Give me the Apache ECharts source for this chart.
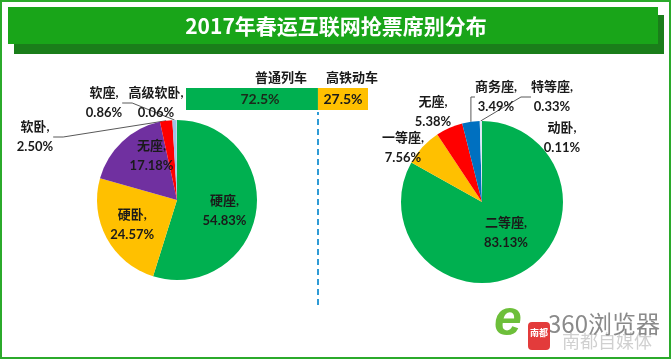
<!DOCTYPE html>
<html><head><meta charset="utf-8">
<script src="https://cdn.jsdelivr.net/npm/echarts@6/dist/echarts.min.js"></script>
<style>html,body{margin:0;padding:0;background:#fff}#c{width:672px;height:360px}</style>
</head><body><div id="c"></div>
<script>
// ---- data ----
const titleText = '2017年春运互联网抢票席别分布';
const leftNames = ['硬座', '硬卧', '无座', '软卧', '软座', '高级软卧'];
const leftValues = [54.83, 24.57, 17.18, 2.50, 0.86, 0.06];
const rightNames = ['二等座', '一等座', '无座', '商务座', '特等座', '动卧'];
const rightValues = [83.13, 7.56, 5.38, 3.49, 0.33, 0.11];
const trainTypes = ['普通列车', '高铁动车'];
const trainShares = [72.5, 27.5];

// ---- styles ----
const FONT = 'Lato, "Noto Sans CJK SC", sans-serif';
const leftColors = ['#00B050', '#FFC000', '#7030A0', '#FF0000', '#9DC3E6', '#DDEBF7'];
const rightColors = ['#00B050', '#FFC000', '#FF0000', '#0070C0', '#DEEBF7', '#C9D9EC'];
const leftInside = [true, true, true, false, false, false];
const leftLine = [false, false, false, true, true, false];
const rightInside = [true, false, false, false, false, false];
const rightLine = [false, false, false, true, true, false];
// label placement (layout, not data)
const leftLabelLayout = {
  0: {dx: 5, dy: 4}, 1: {dx: -7, dy: 4}, 2: {dx: 4, dy: -13},
  3: {x: 35, y: 137}, 4: {x: 104, y: 103}, 5: {x: 156, y: 103}
};
const rightLabelLayout = {
  0: {dx: 2, dy: -7},
  1: {x: 403, y: 148}, 2: {x: 433, y: 112}, 3: {x: 496, y: 97},
  4: {x: 552, y: 97}, 5: {x: 562, y: 138}
};

function pieData(names, values, colors, inside, line) {
  return values.map((v, i) => ({
    name: names[i], value: v,
    itemStyle: {color: colors[i]},
    label: {position: inside[i] ? 'inside' : 'outside'},
    labelLine: {show: line[i]}
  }));
}
function makeLayout(cfg) {
  return function (p) {
    const c = cfg[p.dataIndex] || {};
    if (c.x != null) return {x: c.x, y: c.y, align: 'center', verticalAlign: 'middle'};
    return {dx: c.dx || 0, dy: c.dy || 0};
  };
}
const labelStyle = {
  show: true, fontFamily: FONT, fontWeight: 'bold', fontSize: 13, color: '#1a1a1a',
  lineHeight: 20, align: 'center',
  formatter: p => p.name + ',\n' + p.value.toFixed(2) + '%'
};
const lineStyle = {color: '#595959', width: 1};

const chart = echarts.init(document.getElementById('c'), null, {renderer: 'canvas'});
chart.setOption({
  backgroundColor: '#fff',
  animation: false,
  graphic: [
    {type: 'rect', shape: {x: 1, y: 1, width: 669, height: 357}, style: {fill: 'none', stroke: '#2BAA2B', lineWidth: 2}, z: 0},
    {type: 'rect', shape: {x: 14, y: 15, width: 650, height: 39}, style: {fill: '#1A7E1A'}, z: 0},
    {type: 'rect', shape: {x: 8, y: 7, width: 650, height: 37}, style: {fill: '#19A519'}, z: 0},
    {type: 'text', x: 494, y: 296, style: {text: 'e', fontSize: 50, fontWeight: 'bold', fontStyle: 'italic', fill: '#6DBF3A', fontFamily: 'Arial'}, z: 5},
    {type: 'text', x: 548, y: 312, style: {text: '360浏览器', fontSize: 24, fill: '#8a8a8a', fontFamily: '"Noto Sans CJK SC"'}, z: 5},
    {type: 'rect', shape: {x: 528, y: 322, width: 22, height: 28, r: 4}, style: {fill: '#E33B3B'}, z: 6},
    {type: 'text', x: 530, y: 328, style: {text: '南都', fontSize: 9, fontWeight: 'bold', fill: '#fff', fontFamily: '"Noto Sans CJK SC"'}, z: 7},
    {type: 'text', x: 562, y: 332, style: {text: '南都自媒体', fontSize: 18, fill: '#d0d0d0', fontFamily: '"Noto Sans CJK SC"'}, z: 4}
  ],
  title: {
    text: titleText, left: 'center', top: 11,
    textStyle: {color: '#fff', fontSize: 21, fontWeight: 'bold', fontFamily: '"Noto Sans CJK SC", sans-serif'}
  },
  grid: [
    {left: 186, width: 182, top: 88, height: 22},
    {left: 186, width: 182, top: 112, height: 193}
  ],
  xAxis: [
    {type: 'value', gridIndex: 0, min: 0, max: 100, show: false},
    {type: 'value', gridIndex: 1, min: 0, max: 100, show: false}
  ],
  yAxis: [
    {type: 'category', gridIndex: 0, data: ['share'], show: false},
    {type: 'category', gridIndex: 1, data: ['share'], show: false}
  ],
  series: [
    {
      type: 'bar', name: trainTypes[0], stack: 'v', data: [trainShares[0]], barWidth: 22, barGap: '-100%',
      itemStyle: {color: '#00B050'},
      label: {show: true, position: 'inside', offset: [8, 0], formatter: p => p.value + '%', fontFamily: FONT, fontWeight: 'bold', fontSize: 14, color: '#1a2a1a'}
    },
    {
      type: 'bar', name: trainTypes[1], stack: 'v', data: [trainShares[1]], barWidth: 22,
      itemStyle: {color: '#FFC000'},
      label: {show: true, position: 'inside', formatter: p => p.value + '%', fontFamily: FONT, fontWeight: 'bold', fontSize: 14, color: '#1a1a1a'}
    },
    {
      type: 'bar', name: trainTypes[0], stack: 'n', data: [trainShares[0]], barWidth: 22, barGap: '-100%',
      itemStyle: {color: 'rgba(0,0,0,0)'}, silent: true,
      label: {show: true, position: 'top', distance: 4, offset: [29, 0], formatter: p => p.seriesName, fontFamily: FONT, fontWeight: 'bold', fontSize: 13, color: '#1a1a1a'}
    },
    {
      type: 'bar', name: trainTypes[1], stack: 'n', data: [trainShares[1]], barWidth: 22,
      itemStyle: {color: 'rgba(0,0,0,0)'}, silent: true,
      label: {show: true, position: 'top', distance: 4, offset: [9, 0], formatter: p => p.seriesName, fontFamily: FONT, fontWeight: 'bold', fontSize: 13, color: '#1a1a1a'}
    },
    {
      type: 'line', xAxisIndex: 1, yAxisIndex: 1, data: [], symbol: 'none',
      markLine: {
        silent: true, symbol: ['none', 'none'], label: {show: false},
        lineStyle: {color: '#2E9BD6', width: 2, type: [6, 4]},
        data: [{xAxis: trainShares[0]}]
      }
    },
    {
      type: 'pie', center: [177, 200], radius: 80, startAngle: 90, clockwise: true,
      data: pieData(leftNames, leftValues, leftColors, leftInside, leftLine),
      label: labelStyle, labelLine: {show: true, length: 10, length2: 10, lineStyle: lineStyle},
      labelLayout: makeLayout(leftLabelLayout),
      avoidLabelOverlap: false
    },
    {
      type: 'pie', center: [482, 202], radius: 81, startAngle: 90, clockwise: true,
      data: pieData(rightNames, rightValues, rightColors, rightInside, rightLine),
      label: labelStyle, labelLine: {show: true, length: 10, length2: 10, lineStyle: lineStyle},
      labelLayout: makeLayout(rightLabelLayout),
      avoidLabelOverlap: false
    }
  ]
});
</script>
</body></html>
